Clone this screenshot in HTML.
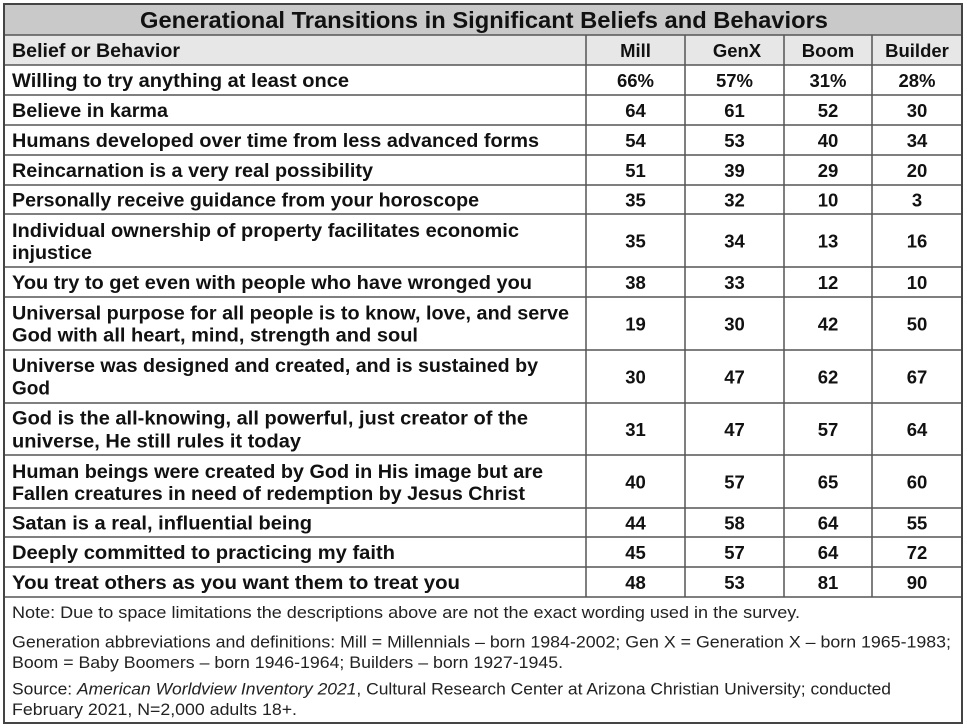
<!DOCTYPE html>
<html>
<head>
<meta charset="utf-8">
<style>
  html, body { margin:0; padding:0; background:#ffffff; }
  body { width:967px; height:728px; overflow:hidden; }
  svg { display:block; }
  .b { font-family:"Liberation Sans", Arial, sans-serif; font-weight:bold; fill:#111; }
  .r { font-family:"Liberation Sans", Arial, sans-serif; font-weight:normal; fill:#222; }
</style>
</head>
<body>
<svg width="967" height="728" viewBox="0 0 967 728" xmlns="http://www.w3.org/2000/svg">
  <rect x="0" y="0" width="967" height="728" fill="#ffffff"/>
  <!-- bands -->
  <rect x="4" y="4" width="958" height="31" fill="#c9c9c9"/>
  <rect x="4" y="35" width="958" height="30" fill="#e7e7e7"/>

  <!-- horizontal lines -->
  <g stroke="#555" stroke-width="1.5">
    <line x1="4" y1="35" x2="962" y2="35"/>
    <line x1="4" y1="65" x2="962" y2="65"/>
    <line x1="4" y1="95" x2="962" y2="95"/>
    <line x1="4" y1="125" x2="962" y2="125"/>
    <line x1="4" y1="155" x2="962" y2="155"/>
    <line x1="4" y1="185" x2="962" y2="185"/>
    <line x1="4" y1="214" x2="962" y2="214"/>
    <line x1="4" y1="267" x2="962" y2="267"/>
    <line x1="4" y1="297" x2="962" y2="297"/>
    <line x1="4" y1="350" x2="962" y2="350"/>
    <line x1="4" y1="403" x2="962" y2="403"/>
    <line x1="4" y1="455" x2="962" y2="455"/>
    <line x1="4" y1="508" x2="962" y2="508"/>
    <line x1="4" y1="537" x2="962" y2="537"/>
    <line x1="4" y1="567" x2="962" y2="567"/>
    <line x1="4" y1="597" x2="962" y2="597"/>
    <!-- vertical column lines -->
    <line x1="586" y1="35" x2="586" y2="597"/>
    <line x1="685" y1="35" x2="685" y2="597"/>
    <line x1="784" y1="35" x2="784" y2="597"/>
    <line x1="872" y1="35" x2="872" y2="597"/>
  </g>
  <!-- outer border -->
  <rect x="4" y="4" width="958" height="719" fill="none" stroke="#444" stroke-width="2"/>

  <!-- title -->
  <text class="b" x="140" y="28" font-size="23" textLength="688" lengthAdjust="spacingAndGlyphs">Generational Transitions in Significant Beliefs and Behaviors</text>

  <!-- header row -->
  <text class="b" x="12" y="57" font-size="19" textLength="168" lengthAdjust="spacingAndGlyphs">Belief or Behavior</text>
  <g class="b" font-size="18.5" text-anchor="middle">
    <text x="635.5" y="57">Mill</text>
    <text x="737" y="57">GenX</text>
    <text x="828" y="57">Boom</text>
    <text x="917" y="57">Builder</text>
  </g>

  <!-- left column text -->
  <g class="b" font-size="19">
    <text x="12" y="87" textLength="337" lengthAdjust="spacingAndGlyphs">Willing to try anything at least once</text>
    <text x="12" y="117" textLength="156" lengthAdjust="spacingAndGlyphs">Believe in karma</text>
    <text x="12" y="147" textLength="527" lengthAdjust="spacingAndGlyphs">Humans developed over time from less advanced forms</text>
    <text x="12" y="177" textLength="361" lengthAdjust="spacingAndGlyphs">Reincarnation is a very real possibility</text>
    <text x="12" y="206.5" textLength="467" lengthAdjust="spacingAndGlyphs">Personally receive guidance from your horoscope</text>
    <text x="12" y="237" textLength="507" lengthAdjust="spacingAndGlyphs">Individual ownership of property facilitates economic</text>
    <text x="12" y="259" textLength="80" lengthAdjust="spacingAndGlyphs">injustice</text>
    <text x="12" y="289" textLength="520" lengthAdjust="spacingAndGlyphs">You try to get even with people who have wronged you</text>
    <text x="12" y="319.5" textLength="557" lengthAdjust="spacingAndGlyphs">Universal purpose for all people is to know, love, and serve</text>
    <text x="12" y="341.5" textLength="406" lengthAdjust="spacingAndGlyphs">God with all heart, mind, strength and soul</text>
    <text x="12" y="372" textLength="526" lengthAdjust="spacingAndGlyphs">Universe was designed and created, and is sustained by</text>
    <text x="12" y="394.5">God</text>
    <text x="12" y="424.5" textLength="516" lengthAdjust="spacingAndGlyphs">God is the all-knowing, all powerful, just creator of the</text>
    <text x="12" y="447.5" textLength="289" lengthAdjust="spacingAndGlyphs">universe, He still rules it today</text>
    <text x="12" y="478" textLength="531" lengthAdjust="spacingAndGlyphs">Human beings were created by God in His image but are</text>
    <text x="12" y="500" textLength="513" lengthAdjust="spacingAndGlyphs">Fallen creatures in need of redemption by Jesus Christ</text>
    <text x="12" y="529.5" textLength="300" lengthAdjust="spacingAndGlyphs">Satan is a real, influential being</text>
    <text x="12" y="559" textLength="383" lengthAdjust="spacingAndGlyphs">Deeply committed to practicing my faith</text>
    <text x="12" y="589" textLength="448" lengthAdjust="spacingAndGlyphs">You treat others as you want them to treat you</text>
  </g>

  <!-- numbers -->
  <g class="b" font-size="18.5" text-anchor="middle">
    <text x="635.5" y="87">66%</text><text x="734.5" y="87">57%</text><text x="828" y="87">31%</text><text x="917" y="87">28%</text>
    <text x="635.5" y="117">64</text><text x="734.5" y="117">61</text><text x="828" y="117">52</text><text x="917" y="117">30</text>
    <text x="635.5" y="147">54</text><text x="734.5" y="147">53</text><text x="828" y="147">40</text><text x="917" y="147">34</text>
    <text x="635.5" y="177">51</text><text x="734.5" y="177">39</text><text x="828" y="177">29</text><text x="917" y="177">20</text>
    <text x="635.5" y="206.5">35</text><text x="734.5" y="206.5">32</text><text x="828" y="206.5">10</text><text x="917" y="206.5">3</text>
    <text x="635.5" y="247.5">35</text><text x="734.5" y="247.5">34</text><text x="828" y="247.5">13</text><text x="917" y="247.5">16</text>
    <text x="635.5" y="289">38</text><text x="734.5" y="289">33</text><text x="828" y="289">12</text><text x="917" y="289">10</text>
    <text x="635.5" y="330.5">19</text><text x="734.5" y="330.5">30</text><text x="828" y="330.5">42</text><text x="917" y="330.5">50</text>
    <text x="635.5" y="383.5">30</text><text x="734.5" y="383.5">47</text><text x="828" y="383.5">62</text><text x="917" y="383.5">67</text>
    <text x="635.5" y="436">31</text><text x="734.5" y="436">47</text><text x="828" y="436">57</text><text x="917" y="436">64</text>
    <text x="635.5" y="488.5">40</text><text x="734.5" y="488.5">57</text><text x="828" y="488.5">65</text><text x="917" y="488.5">60</text>
    <text x="635.5" y="529.5">44</text><text x="734.5" y="529.5">58</text><text x="828" y="529.5">64</text><text x="917" y="529.5">55</text>
    <text x="635.5" y="559">45</text><text x="734.5" y="559">57</text><text x="828" y="559">64</text><text x="917" y="559">72</text>
    <text x="635.5" y="589">48</text><text x="734.5" y="589">53</text><text x="828" y="589">81</text><text x="917" y="589">90</text>
  </g>

  <!-- footer -->
  <g class="r" font-size="16.5">
    <text x="12" y="618" textLength="788" lengthAdjust="spacingAndGlyphs">Note: Due to space limitations the descriptions above are not the exact wording used in the survey.</text>
    <text x="12" y="647.5" textLength="939" lengthAdjust="spacingAndGlyphs">Generation abbreviations and definitions: Mill = Millennials – born 1984-2002; Gen X = Generation X – born 1965-1983;</text>
    <text x="12" y="668" textLength="551" lengthAdjust="spacingAndGlyphs">Boom = Baby Boomers – born 1946-1964; Builders – born 1927-1945.</text>
    <text x="12" y="694.5" textLength="879" lengthAdjust="spacingAndGlyphs">Source: <tspan font-style="italic">American Worldview Inventory 2021</tspan>, Cultural Research Center at Arizona Christian University; conducted</text>
    <text x="12" y="715" textLength="285" lengthAdjust="spacingAndGlyphs">February 2021, N=2,000 adults 18+.</text>
  </g>
</svg>
</body>
</html>
